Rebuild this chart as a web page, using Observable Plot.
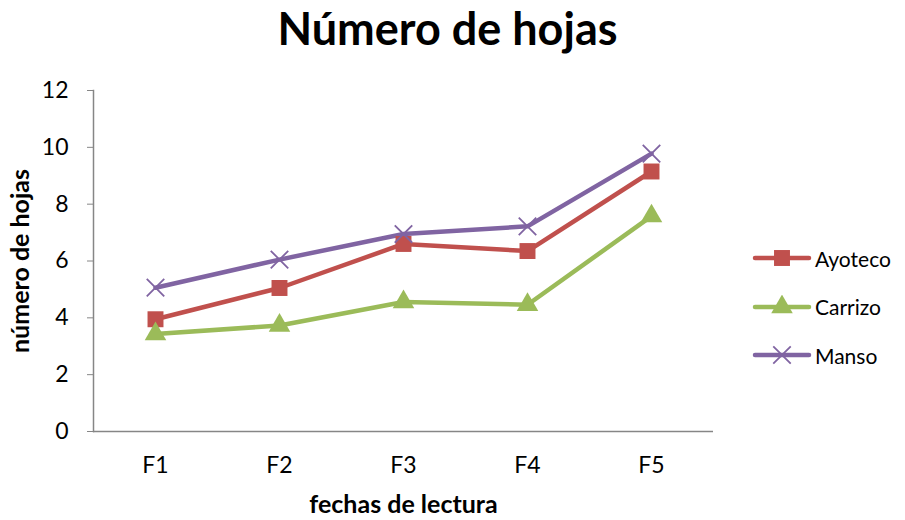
<!DOCTYPE html>
<html>
<head>
<meta charset="utf-8">
<script src="https://cdn.jsdelivr.net/npm/d3@7"></script>
<script src="https://cdn.jsdelivr.net/npm/@observablehq/plot@0.6"></script>
<style>
  body { margin: 0; background: #fff; font-family: Lato, "Open Sans", sans-serif; }
  #wrap { position: relative; width: 905px; height: 520px; overflow: hidden; }
  #title { position: absolute; left: 0; top: 1px; width: 895px; text-align: center; font-weight: bold; font-size: 45px; color: #000; }
  #chart { position: absolute; left: 0; top: 0; }
  #legend { position: absolute; left: 752px; top: 234px; }
  .item { display: flex; align-items: center; height: 48.5px; font-size: 21px; color: #000; }
  .item svg { margin-right: 3px; }
</style>
</head>
<body>
<div id="wrap">
  <div id="chart"></div>
  <div id="title">Número de hojas</div>
  <div id="legend"></div>
</div>
<script>
const fechas = ["F1", "F2", "F3", "F4", "F5"];
const seriesNames = ["Ayoteco", "Carrizo", "Manso"];
const ayoteco = [3.95, 5.05, 6.6, 6.35, 9.15];
const carrizo = [3.43, 3.73, 4.56, 4.46, 7.58];
const manso = [5.06, 6.05, 6.95, 7.22, 9.78];
const yTicks = [0, 2, 4, 6, 8, 10, 12];
const colors = ["#C0504D", "#9BBB59", "#8064A2"];
const symbols = ["square", "triangle", "times"];

const data = [];
[ayoteco, carrizo, manso].forEach((vals, i) => {
  vals.forEach((v, j) => data.push({serie: seriesNames[i], fecha: fechas[j], valor: v}));
});
const bySerie = name => data.filter(d => d.serie === name);

const W = 905, H = 520;
const plot = Plot.plot({
  width: W,
  height: H,
  marginTop: 90,
  marginBottom: 89,
  marginLeft: 93,
  marginRight: 192,
  style: {fontFamily: "Lato, 'Open Sans', sans-serif", fontSize: "23px", color: "#000", background: "#fff", overflow: "visible"},
  x: {type: "point", domain: fechas, padding: 0.5},
  y: {domain: [0, 12]},
  color: {domain: seriesNames, range: colors},
  symbol: {domain: seriesNames, range: symbols},
  marks: [
    Plot.frame({anchor: "left", stroke: "#868686", strokeWidth: 1.5}),
    Plot.axisY({ticks: yTicks, tickSize: 6, tickPadding: 19, stroke: "#868686", fill: "#000", label: null}),
    Plot.axisX({tickSize: 0, tickPadding: 25, fill: "#000", label: null}),
    Plot.ruleY([0], {stroke: "#868686", strokeWidth: 1.5}),
    Plot.line(data, {x: "fecha", y: "valor", z: "serie", stroke: "serie", strokeWidth: 4.5, strokeLinejoin: "round"}),
    Plot.dot(bySerie("Ayoteco"), {x: "fecha", y: "valor", symbol: "serie", fill: "serie", r: 9}),
    Plot.dot(bySerie("Carrizo"), {x: "fecha", y: "valor", symbol: "serie", fill: "serie", r: 8}),
    Plot.dot(bySerie("Manso"), {x: "fecha", y: "valor", symbol: "serie", stroke: "serie", strokeWidth: 1.8, r: 8}),
    Plot.text(["fechas de lectura"], {frameAnchor: "bottom", textAnchor: "middle", dy: 81, fontWeight: "bold", fontSize: 25, fill: "#000"}),
    Plot.text(["número de hojas"], {frameAnchor: "left", textAnchor: "middle", dx: -73, rotate: -90, fontWeight: "bold", fontSize: 25, fill: "#000"})
  ]
});
document.getElementById("chart").appendChild(plot);

// legend
const legend = d3.select("#legend");
seriesNames.forEach((name, i) => {
  const item = legend.append("div").attr("class", "item");
  const svg = item.append("svg").attr("width", 60).attr("height", 24);
  svg.append("line").attr("x1", 3).attr("x2", 57).attr("y1", 12).attr("y2", 12)
    .attr("stroke", colors[i]).attr("stroke-width", 4.5).attr("stroke-linecap", "round");
  const sym = [d3.symbolSquare, d3.symbolTriangle, d3.symbolTimes][i];
  const size = [254, 201, 201][i];
  const p = svg.append("path").attr("transform", "translate(30,12)").attr("d", d3.symbol(sym, size)());
  if (i === 2) p.attr("fill", "none").attr("stroke", colors[i]).attr("stroke-width", 1.8);
  else p.attr("fill", colors[i]);
  item.append("span").text(name);
});
</script>
</body>
</html>
